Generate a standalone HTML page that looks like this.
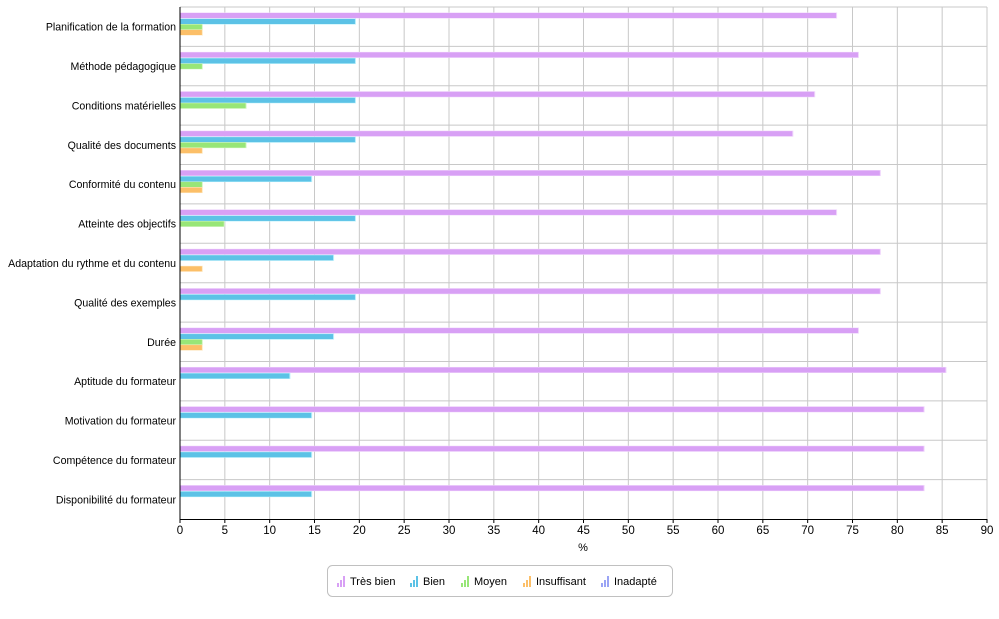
<!DOCTYPE html>
<html><head><meta charset="utf-8"><style>
body{margin:0;background:#fff;width:999px;height:614px;overflow:hidden}
text{font-family:"Liberation Sans",sans-serif;fill:#000}
</style></head><body>
<svg id="s" width="999" height="614" xmlns="http://www.w3.org/2000/svg"></svg>
<script>
const s=document.getElementById('s');
const cats=["Planification de la formation","Méthode pédagogique","Conditions matérielles","Qualité des documents","Conformité du contenu","Atteinte des objectifs","Adaptation du rythme et du contenu","Qualité des exemples","Durée","Aptitude du formateur","Motivation du formateur","Compétence du formateur","Disponibilité du formateur"];
const d=[[73.17,19.51,2.44,2.44],[75.61,19.51,2.44,0],[70.73,19.51,7.32,0],[68.29,19.51,7.32,2.44],[78.05,14.63,2.44,2.44],[73.17,19.51,4.88,0],[78.05,17.07,0,2.44],[78.05,19.51,0,0],[75.61,17.07,2.44,2.44],[85.37,12.2,0,0],[82.93,14.63,0,0],[82.93,14.63,0,0],[82.93,14.63,0,0]];
const col=["#d8a0f5","#5cc2e6","#98e677","#fcbf68"],ol=["#f0d6fc","#b6f0fb","#d8f7c8","#feebc8"];
const X0=180,SC=(987-180)/90,T=7,RH=(519-7)/13;
let h='';
for(let i=0;i<=18;i++){const x=X0+i*5*SC;h+=`<line x1="${x}" y1="${T}" x2="${x}" y2="519" stroke="#c8c8c8"/>`;
h+=`<line x1="${x}" y1="519" x2="${x}" y2="523" stroke="#000"/>`;
h+=`<text x="${x}" y="534" font-size="11.5" text-anchor="middle">${i*5}</text>`;}
for(let r=0;r<13;r++){const y=T+r*RH;h+=`<line x1="${X0}" y1="${y}" x2="987" y2="${y}" stroke="#c8c8c8"/>`;}
const offs=[6,12,17.5,23];
d.forEach((row,r)=>{const y=T+r*RH;
row.forEach((v,k)=>{if(v>0){h+=`<rect x="${X0}" y="${y+offs[k]-0.5}" width="${v*SC+1}" height="6" fill="${ol[k]}"/><rect x="${X0}" y="${y+offs[k]}" width="${v*SC}" height="5" fill="${col[k]}"/>`;}});
h+=`<text x="176" y="${y+RH/2+4}" font-size="10.6" text-anchor="end">${cats[r]}</text>`;});
h+=`<line x1="${X0}" y1="${T}" x2="${X0}" y2="520" stroke="#000"/><line x1="${X0}" y1="519.5" x2="987" y2="519.5" stroke="#000"/>`;
h+=`<text x="583" y="551" font-size="11" text-anchor="middle">%</text>`;
h+=`<rect x="327.5" y="565.5" width="345" height="31" rx="5" fill="#fff" stroke="#c0c0c0"/>`;
const lg=[["Très bien",337,"#d8a0f5"],["Bien",410,"#5cc2e6"],["Moyen",461,"#98e677"],["Insuffisant",523,"#fcbf68"],["Inadapté",601,"#9aa4f5"]];
lg.forEach(([t,x,c])=>{h+=`<rect x="${x}" y="583" width="2" height="4" fill="${c}"/><rect x="${x+3}" y="580" width="2" height="7" fill="${c}"/><rect x="${x+6}" y="576" width="2" height="11" fill="${c}"/>`;
h+=`<text x="${x+13}" y="585" font-size="11">${t}</text>`;});
s.innerHTML=h;
</script>
</body></html>
